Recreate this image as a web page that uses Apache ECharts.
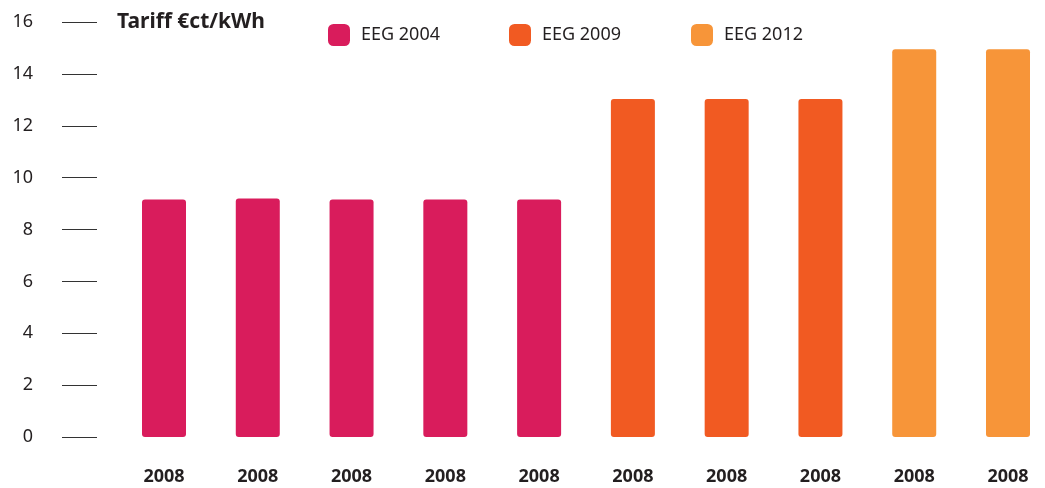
<!DOCTYPE html>
<html>
<head>
<meta charset="utf-8">
<script src="https://cdn.jsdelivr.net/npm/echarts@6/dist/echarts.min.js"></script>
<style>
html,body{margin:0;padding:0;background:#fff;}
#chart{width:1045px;height:488px;}
</style>
</head>
<body>
<div id="chart"></div>
<script>
const categories = ['2008','2008','2008','2008','2008','2008','2008','2008','2008','2008'];
const eeg2004 = [9.16, 9.2, 9.16, 9.16, 9.16, '-', '-', '-', '-', '-'];
const eeg2009 = ['-', '-', '-', '-', '-', 13.03, 13.03, 13.03, '-', '-'];
const eeg2012 = ['-', '-', '-', '-', '-', '-', '-', '-', 14.95, 14.95];
const yTicks = [0, 2, 4, 6, 8, 10, 12, 14, 16];
const seriesNames = ['EEG 2004', 'EEG 2009', 'EEG 2012'];
const colors = ['#D91C5C', '#F15A22', '#F79539'];

const FONT = 'Noto Sans';
const TEXT = '#231F20';

const chart = echarts.init(document.getElementById('chart'), null, {renderer: 'canvas'});

function legendAt(idx, left) {
  return {
    data: [seriesNames[idx]],
    left: left,
    top: 19,
    icon: 'roundRect',
    itemWidth: 22,
    itemHeight: 22,
    selectedMode: false,
    textStyle: {fontFamily: FONT, fontSize: 18, color: TEXT, padding: [0, 0, 0, 6]}
  };
}

const option = {
  backgroundColor: '#fff',
  animation: false,
  title: {
    text: 'Tariff €ct/kWh',
    left: 112,
    top: 7,
    textStyle: {fontFamily: FONT, fontSize: 21, fontWeight: 'bold', color: TEXT}
  },
  legend: [legendAt(0, 323), legendAt(1, 504), legendAt(2, 686)],
  grid: {left: 164, top: 22, right: 37, height: 415},
  xAxis: {
    type: 'category',
    data: categories,
    boundaryGap: false,
    axisLine: {show: false},
    axisTick: {show: false},
    axisLabel: {fontFamily: FONT, fontSize: 18, fontWeight: 'bold', color: TEXT, margin: 31}
  },
  yAxis: {
    type: 'value',
    min: yTicks[0],
    max: yTicks[yTicks.length - 1],
    interval: 2,
    offset: 67,
    axisLine: {show: false},
    axisTick: {show: true, length: 35, lineStyle: {color: '#333', width: 1}},
    splitLine: {show: false},
    axisLabel: {fontFamily: FONT, fontSize: 18, color: TEXT, margin: 64}
  },
  series: [
    {name: seriesNames[0], type: 'bar', stack: 'all', clip: false, data: eeg2004, barWidth: 44, itemStyle: {color: colors[0], borderRadius: 3}},
    {name: seriesNames[1], type: 'bar', stack: 'all', clip: false, data: eeg2009, barWidth: 44, itemStyle: {color: colors[1], borderRadius: 3}},
    {name: seriesNames[2], type: 'bar', stack: 'all', clip: false, data: eeg2012, barWidth: 44, itemStyle: {color: colors[2], borderRadius: 3}}
  ]
};
chart.setOption(option);
</script>
</body>
</html>
